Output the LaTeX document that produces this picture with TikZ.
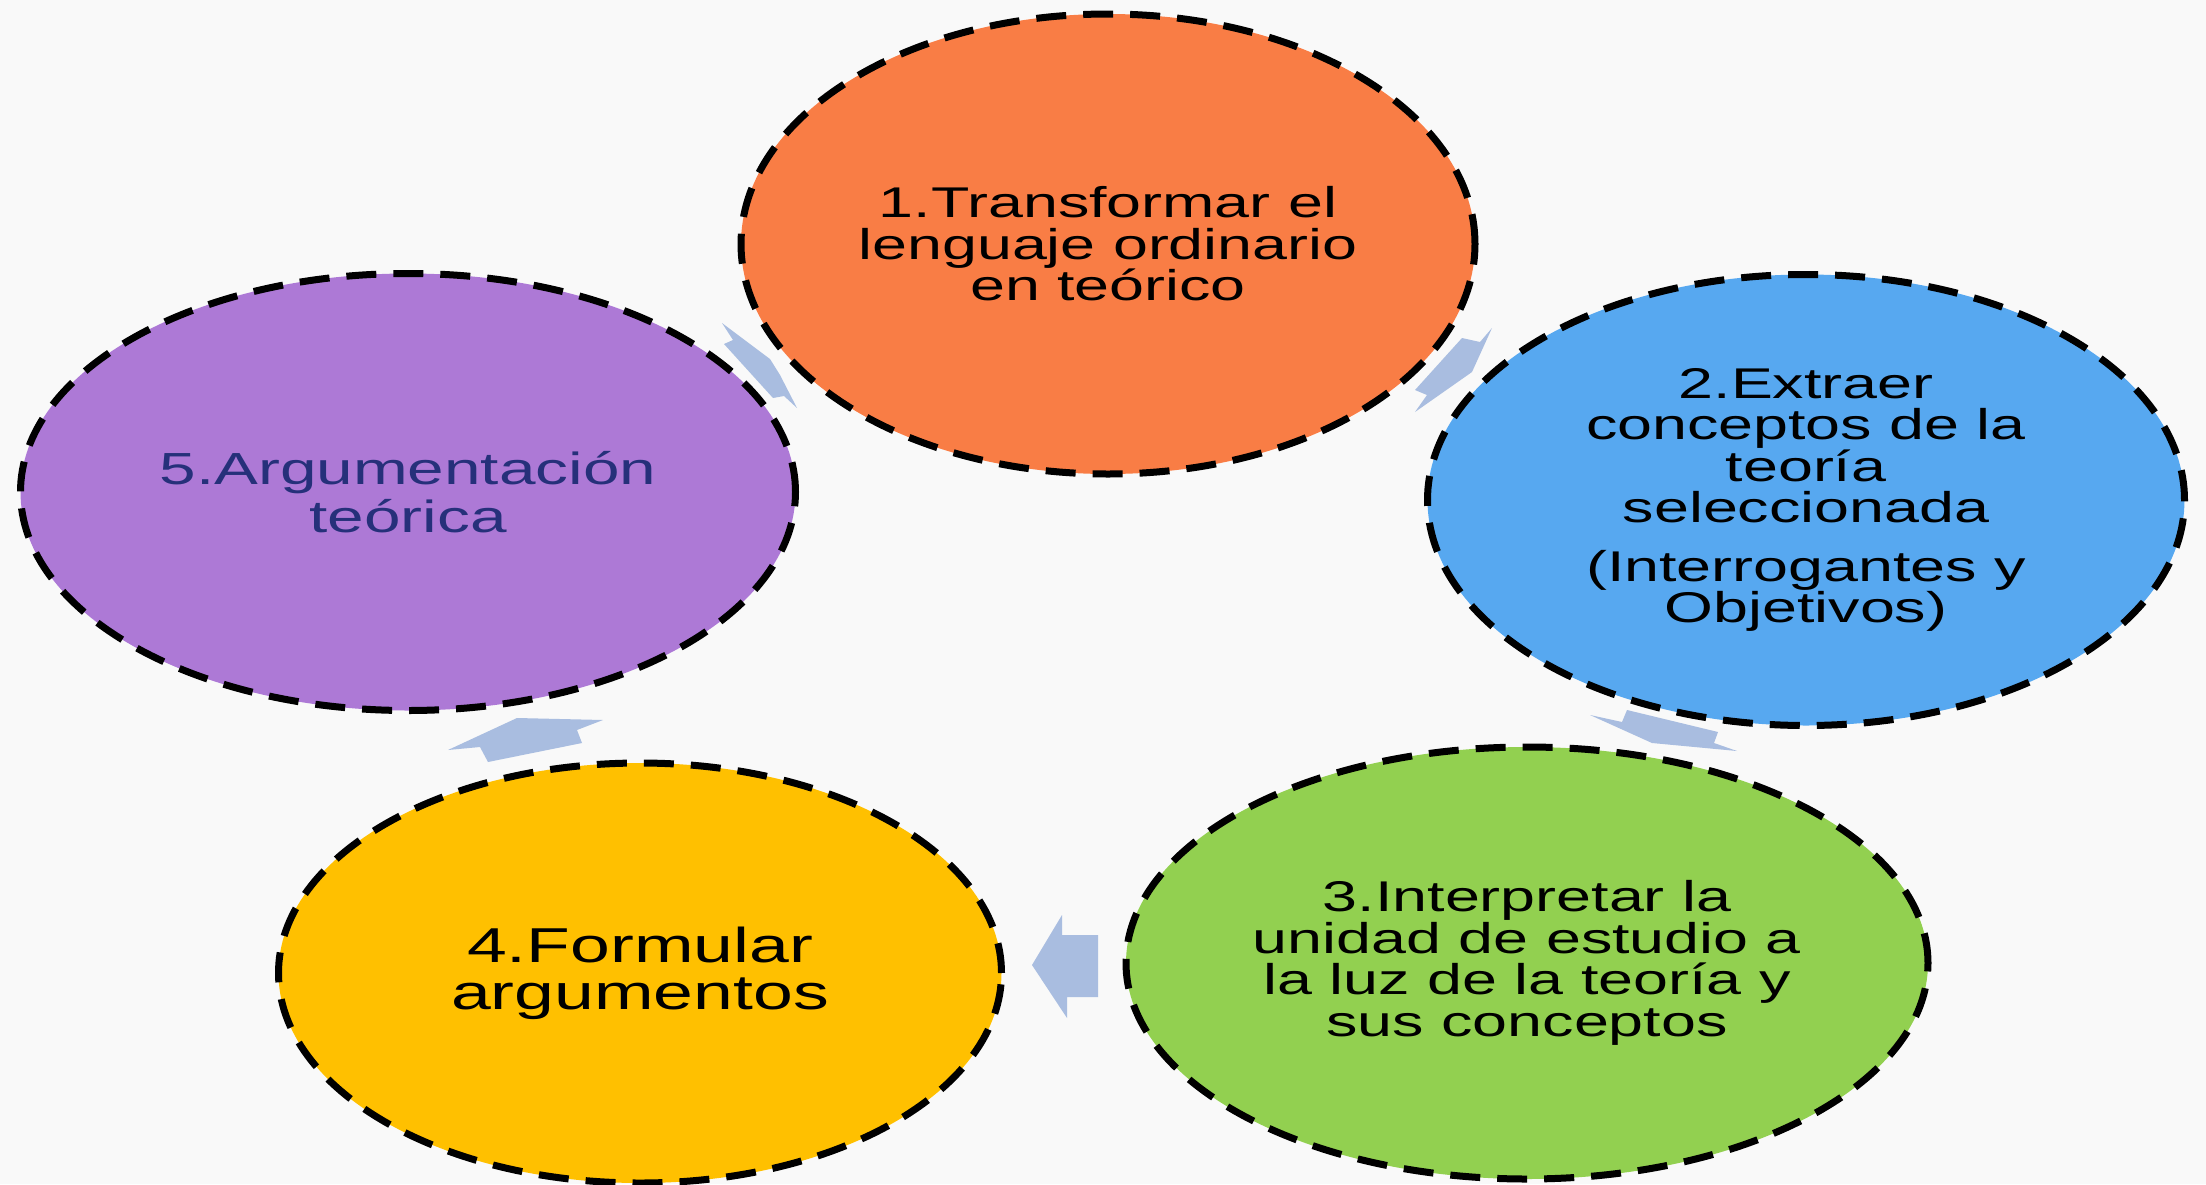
\documentclass[tikz,border=0pt]{standalone}
\usepackage{fontspec}
\usetikzlibrary{shapes.geometric}
\newfontfamily\widesans[FakeStretch=1.46]{Liberation Sans}
\definecolor{bgc}{HTML}{F9F9F9}
\definecolor{orangec}{HTML}{F97D45}
\definecolor{bluec}{HTML}{57A8F0}
\definecolor{greenc}{HTML}{92D050}
\definecolor{yellowc}{HTML}{FFC000}
\definecolor{purplec}{HTML}{AD79D6}
\definecolor{arrowc}{HTML}{A9BDE0}
\definecolor{navyc}{HTML}{26307A}
\tikzset{
  stepnode/.style={ellipse, draw=black, line width=7pt, dash pattern=on 30pt off 17pt,
    inner sep=0pt, align=center, text=black},
  smalltxt/.style={font=\widesans\fontsize{43}{41.5}\selectfont},
  yellowtxt/.style={font=\widesans\fontsize{49}{47}\selectfont},
  purpletxt/.style={font=\widesans\fontsize{45}{48}\selectfont},
  cyclearrow/.style={fill=arrowc, draw=none}
}
\begin{document}
\begin{tikzpicture}[x=1pt,y=-1pt]
\fill[bgc] (0,0) rectangle (2206,1184);
\useasboundingbox (0,0) rectangle (2206,1184);
% cycle arrows
\fill[cyclearrow] (722,323) -- (770,359) -- (780,375) -- (797,408) -- (784,396) -- (773,398) -- (724,344) -- (733,340) -- cycle;
\fill[cyclearrow] (1462,338) -- (1480,342) -- (1492,328) -- (1472,372) -- (1415,412) -- (1427,395) -- (1415,390) -- cycle;
\fill[cyclearrow] (1627,710) -- (1718,732) -- (1714,743) -- (1737,751) -- (1652,743) -- (1590,715) -- (1622,722) -- cycle;
\fill[cyclearrow] (1032,965) -- (1062,915) -- (1062,935) -- (1098,935) -- (1098,997) -- (1067,997) -- (1067,1018) -- cycle;
\fill[cyclearrow] (517,718) -- (603,720) -- (577,730) -- (582,743) -- (488,762) -- (480,747) -- (448,750) -- cycle;
% steps
\node[stepnode, smalltxt, fill=orangec, minimum width=734pt, minimum height=460pt] (n1) at (1108,244)
  {1.Transformar el\\lenguaje ordinario\\en teórico};
\node[stepnode, smalltxt, fill=bluec, minimum width=757pt, minimum height=451pt] (n2) at (1806,500)
  {2.Extraer\\conceptos de la\\teoría\\seleccionada\\[17pt](Interrogantes y\\Objetivos)};
\node[stepnode, smalltxt, fill=greenc, minimum width=802pt, minimum height=432pt] (n3) at (1527,963)
  {3.Interpretar la\\unidad de estudio a\\la luz de la teoría y\\sus conceptos};
\node[stepnode, yellowtxt, fill=yellowc, minimum width=723pt, minimum height=420pt] (n4) at (640,973)
  {4.Formular\\argumentos};
\node[stepnode, purpletxt, fill=purplec, text=navyc, minimum width=775pt, minimum height=437pt] (n5) at (408,492)
  {5.Argumentación\\teórica};
\end{tikzpicture}
\end{document}
